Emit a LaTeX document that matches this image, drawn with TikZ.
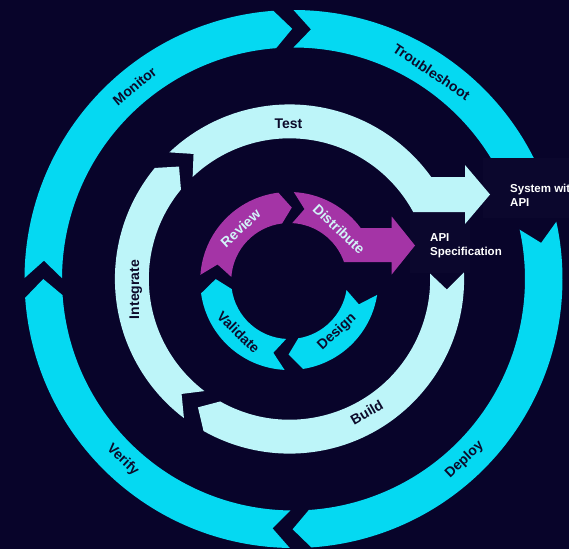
\documentclass[tikz,border=0pt]{standalone}
\usepackage{fontspec}
\setmainfont{Liberation Sans}
\usetikzlibrary{calc}
\definecolor{bg}{HTML}{08042A}
\definecolor{cyanring}{HTML}{05D9F2}
\definecolor{lightring}{HTML}{BDF5F9}
\definecolor{purplering}{HTML}{A434A6}
\definecolor{darktext}{HTML}{0C0A2A}
\definecolor{palelabel}{HTML}{D2F4F8}
\definecolor{boxfill}{HTML}{0B072D}

\newcommand{\RingArrow}[6]{% #1 fill, #2 Rin, #3 Rout, #4 tail angle, #5 head base angle, #6 chevron depth
  \pgfmathsetmacro\RAmid{(#2+#3)/2}%
  \pgfmathsetmacro\RAnotch{#4-#6}%
  \pgfmathsetmacro\RAtip{#5-#6}%
  \fill[#1] (#4:#3pt) arc[start angle=#4, end angle=#5, radius=#3pt]
    -- (\RAtip:\RAmid pt) -- (#5:#2pt)
    arc[start angle=#5, end angle=#4, radius=#2pt]
    -- (\RAnotch:\RAmid pt) -- cycle;
}

\tikzset{
  ringlabel/.style={font=\bfseries\fontsize{14}{16}\selectfont, text=darktext, inner sep=0pt},
  purplelabel/.style={ringlabel, text=palelabel},
  apilabel/.style={font=\bfseries\fontsize{11.5}{14}\selectfont, text=white, align=left, inner sep=0pt, anchor=west},
  boxstyle/.style={fill=boxfill}
}

\begin{document}
\begin{tikzpicture}[x=1pt,y=1pt]
\fill[bg] (0,0) rectangle (569,-549);
\useasboundingbox (0,0) rectangle (569,-549);
\clip (0,0) rectangle (569,-549);
\coordinate (Oout) at (293.5,-279);
\coordinate (Omid) at (289.5,-279);
\coordinate (Oin) at (289.2,-281);

% outer ring
\begin{scope}[shift={(Oout)}]
  \RingArrow{cyanring}{231.5}{269}{179.8}{94.3}{4}
  \RingArrow{cyanring}{231.5}{269}{90}{20}{4}
  \RingArrow{cyanring}{231.5}{269}{12.3}{-86.2}{4}
  \RingArrow{cyanring}{231.5}{269}{-90.8}{-176}{4}
\end{scope}

% boxes
\fill[boxstyle] (483,-158) rectangle (580,-218);
\fill[boxstyle] (410,-208) rectangle (470,-273);

% middle ring
\begin{scope}[shift={(Omid)}]
  \fill[lightring] (133.5:174.6pt) arc[start angle=133.5, end angle=35.74, radius=174.6pt]
    -- (175.5,102) -- (175.5,114) -- (200.5,84.5) -- (175.5,55) -- (175.5,67)
    -- (28.43:140.7pt) arc[start angle=28.43, end angle=133.5, radius=140.7pt]
    -- (127.5:157.65pt) -- cycle;
  \RingArrow{lightring}{140.7}{174.6}{232.8}{140.5}{6}
  \RingArrow{lightring}{140.7}{174.6}{2.2}{-119.5}{6}
\end{scope}

% inner ring
\begin{scope}[shift={(Oin)}]
  \RingArrow{purplering}{58}{89}{176}{97}{9}
  \fill[purplering] (87:89pt) arc[start angle=87, end angle=36.55, radius=89pt]
    -- (102.5,53) -- (102.5,64.5) -- (125.8,35.5) -- (102.5,6.5) -- (102.5,19)
    -- (19.12:58pt) arc[start angle=19.12, end angle=87, radius=58pt]
    -- (78:73.5pt) -- cycle;
  \RingArrow{cyanring}{58}{89}{-9}{-81}{9.5}
  \RingArrow{cyanring}{58}{89}{267}{188}{9.5}
\end{scope}

% labels
\begin{scope}[shift={(Oout)}]
  \node[ringlabel, rotate=39.5] (monitor) at (129.5:250pt) {Monitor};
  \node[ringlabel, rotate=-33.7] (troubleshoot) at (56.3:249pt) {Troubleshoot};
  \node[ringlabel, rotate=43.4] (deploy) at (-46.6:249pt) {Deploy};
  \node[ringlabel, rotate=-43.3] (verify) at (-133.3:249pt) {Verify};
\end{scope}
\begin{scope}[shift={(Omid)}]
  \node[ringlabel] (test) at (90.4:155.7pt) {Test};
  \node[ringlabel, rotate=90] (integrate) at (183.9:154pt) {Integrate};
  \node[ringlabel, rotate=30] (build) at (-59.9:154pt) {Build};
\end{scope}
\begin{scope}[shift={(Oin)}]
  \node[purplelabel, rotate=42.6] (review) at (132.6:72pt) {Review};
  \node[purplelabel, rotate=-43.8] (distribute) at (46.2:72pt) {Distribute};
  \node[ringlabel, rotate=-44.7] (validate) at (-134.7:72pt) {Validate};
  \node[ringlabel, rotate=43.1] (design) at (-46.9:70pt) {Design};
\end{scope}
\node[apilabel] (apispec) at (430,-245.8) {API\\Specification};
\node[apilabel] (system) at (510,-195) {System with\\API};
\end{tikzpicture}
\end{document}
